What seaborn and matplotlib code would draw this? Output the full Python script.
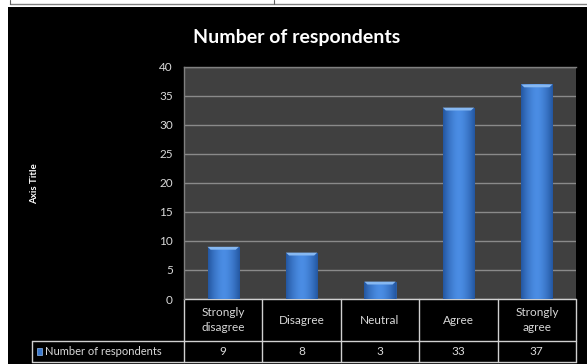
import numpy as np
import pandas as pd
import matplotlib
matplotlib.use("Agg")
import matplotlib.pyplot as plt
import matplotlib.transforms as mtransforms
from matplotlib.patches import Rectangle
import seaborn as sns

categories = ["Strongly\ndisagree", "Disagree", "Neutral", "Agree", "Strongly\nagree"]
respondents = [9, 8, 3, 33, 37]
series_name = "Number of respondents"
y_ticks = [0, 5, 10, 15, 20, 25, 30, 35, 40]

sns.set_theme(style="dark")
plt.rcParams["font.family"] = ["Lato", "DejaVu Sans"]

df = pd.DataFrame({"category": categories, "count": respondents})

W, H = 587, 364
fig = plt.figure(figsize=(W / 100, H / 100), dpi=100, facecolor="white")

# black chart area with a thin white margin at top and left
fig.patches.append(Rectangle((8 / W, 0), 1 - 8 / W, 1 - 7 / H, transform=fig.transFigure,
                             facecolor="black", edgecolor="none", zorder=-1))
# remnants of the sheet above the chart
fig.lines.append(plt.Line2D([10 / W, 1], [1 - 3.5 / H, 1 - 3.5 / H], transform=fig.transFigure,
                            color="#808080", lw=1.0, zorder=-1))
for xv in (10, 274):
    fig.lines.append(plt.Line2D([xv / W, xv / W], [1 - 3.5 / H, 1], transform=fig.transFigure,
                                color="#606060", lw=0.8, zorder=-1))

ax = fig.add_axes([184 / W, 1 - 299 / H, (576 - 184) / W, (299 - 67) / H])
ax.set_zorder(2)
ax.set_facecolor("#404040")

sns.barplot(data=df, x="category", y="count", color="#3a78cc", width=0.4,
            ax=ax, zorder=3, saturation=1, edgecolor="#2b5ea8", linewidth=0.6)

# cylinder-like shading on each bar
grad = np.linspace(0, 1, 64)
shade = 1 - 0.45 * (2 * np.abs(grad - 0.5)) ** 1.6
cmap = matplotlib.colors.LinearSegmentedColormap.from_list("bl", ["#1f519a", "#4b8de4"])
for p in list(ax.patches):
    x0, y0 = p.get_x(), p.get_y()
    w, h = p.get_width(), p.get_height()
    im = ax.imshow(np.tile(shade, (2, 1)), cmap=cmap, vmin=0.5, vmax=1, aspect="auto",
                   extent=(x0, x0 + w, y0, y0 + h), zorder=3.5, interpolation="bilinear")
    im.set_clip_path(p)
    # light bevel at the top of the bar
    cap = 0.5
    ax.fill([x0, x0 + w, x0 + w * 0.9, x0 + w * 0.1], [y0 + h, y0 + h, y0 + h - cap, y0 + h - cap],
            color="#86b8f2", zorder=4, lw=0)

ax.set_xlim(-0.5, len(categories) - 0.5)
ax.set_ylim(0, 40)
ax.set_yticks(y_ticks)
ax.yaxis.grid(True, color="#8a8a8a", lw=1.0, zorder=1)
ax.xaxis.grid(False)
ax.set_xticks([])
ax.set_xlabel("")
ax.set_ylabel("")
ax.tick_params(axis="y", length=0, pad=8, labelsize=8.5, labelcolor="#d9d9d9")
for s in ax.spines.values():
    s.set_visible(False)
ax.spines["left"].set_visible(True)
ax.spines["left"].set_color("#808080")
ax.spines["left"].set_linewidth(1.0)
ax.spines["top"].set_visible(True)
ax.spines["top"].set_color("#808080")
ax.spines["top"].set_linewidth(1.0)

fig.text(297 / W, 1 - 37 / H, "Number of respondents", ha="center", va="center",
         color="white", fontsize=14, fontweight="bold")
fig.text(35 / W, 1 - 184 / H, "Axis Title", ha="center", va="center", rotation=90,
         color="white", fontsize=7, fontweight="bold")

# data table under the plot
tr = mtransforms.blended_transform_factory(ax.transData, ax.transAxes)
row1_bot = -(341 - 299) / (299 - 67)
row2_bot = -(362 - 299) / (299 - 67)
left_x = -0.5 - (184 - 32) / ((576 - 184) / len(categories))
lc = "#d0d0d0"
kw = dict(transform=tr, color=lc, lw=1.0, clip_on=False)
ax.plot([-0.5, len(categories) - 0.5], [0, 0], **kw)
ax.plot([left_x, len(categories) - 0.5], [row1_bot, row1_bot], **kw)
ax.plot([left_x, len(categories) - 0.5], [row2_bot, row2_bot], **kw)
ax.plot([left_x, left_x], [row1_bot, row2_bot], **kw)
for i in range(len(categories) + 1):
    ax.plot([i - 0.5, i - 0.5], [0, row2_bot], **kw)

for i, (c, v) in enumerate(zip(categories, respondents)):
    ax.text(i, row1_bot / 2, c, transform=tr, ha="center", va="center", color="#d9d9d9",
            fontsize=8.5, linespacing=1.4)
    ax.text(i, (row1_bot + row2_bot) / 2, str(v), transform=tr, ha="center", va="center",
            color="#d9d9d9", fontsize=8.5)

ax.add_patch(Rectangle((left_x + 0.06, (row1_bot + row2_bot) / 2 - 0.015), 0.07, 0.03,
                       transform=tr, facecolor="#3a78cc", edgecolor="#8fb8ee", lw=0.5,
                       clip_on=False))
ax.text(left_x + 0.17, (row1_bot + row2_bot) / 2, series_name, transform=tr, ha="left",
        va="center", color="#d9d9d9", fontsize=8)

fig.savefig("out.png", dpi=100, facecolor=fig.get_facecolor())
